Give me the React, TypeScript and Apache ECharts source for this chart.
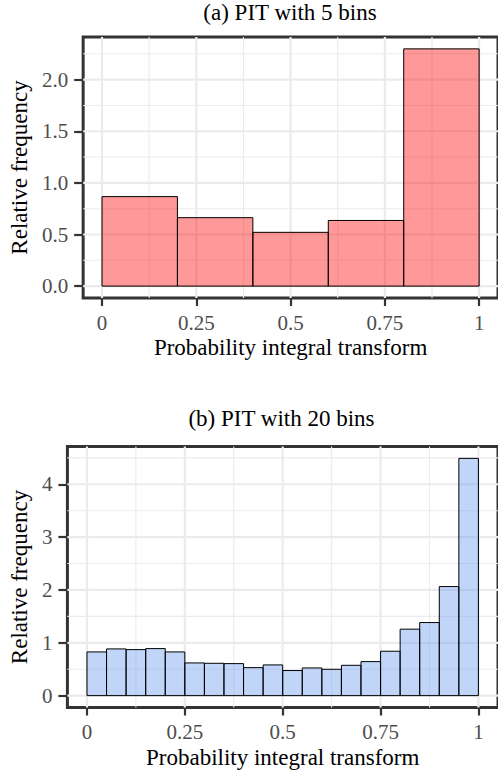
import React, { useEffect, useRef } from "react";
import * as echarts from "echarts";

// ---- data ----
const edgesA = [0, 0.2, 0.4, 0.6, 0.8, 1];
const freqA = [0.867, 0.663, 0.521, 0.636, 2.298];

const edgesB = [
  0, 0.05, 0.1, 0.15, 0.2, 0.25, 0.3, 0.35, 0.4, 0.45, 0.5, 0.55, 0.6, 0.65,
  0.7, 0.75, 0.8, 0.85, 0.9, 0.95, 1,
];
const freqB = [
  0.827, 0.884, 0.871, 0.89, 0.827, 0.619, 0.612, 0.606, 0.53, 0.581, 0.475,
  0.524, 0.499, 0.574, 0.644, 0.84, 1.258, 1.383, 2.064, 4.49,
];

const xTicks = [0, 0.25, 0.5, 0.75, 1];
const xMinor = [0.125, 0.375, 0.625, 0.875];
const yTicksA = [0, 0.5, 1, 1.5, 2];
const yMinorA = [0.25, 0.75, 1.25, 1.75, 2.25];
const yTicksB = [0, 1, 2, 3, 4];
const yMinorB = [0.5, 1.5, 2.5, 3.5, 4.5];

const titleA = "(a) PIT with 5 bins";
const titleB = "(b) PIT with 20 bins";
const xTitle = "Probability integral transform";
const yTitle = "Relative frequency";

const FONT = "Liberation Serif, Times New Roman, serif";

export default function App() {
  const ref = useRef<HTMLDivElement>(null);

  useEffect(() => {
    if (!ref.current) return;
    const chart = echarts.init(ref.current, null, { renderer: "svg" });

    const maxA = Math.max(...freqA);
    const maxB = Math.max(...freqB);

    const grids = [
      { left: 80.5, top: 37, width: 419, height: 261 },
      { left: 63.5, top: 446.5, width: 437, height: 261 },
    ];

    const makeX = (gi: number) => ({
      type: "value",
      gridIndex: gi,
      min: -0.05,
      max: 1.05,
      name: xTitle,
      nameLocation: "middle",
      nameGap: 38,
      nameTextStyle: { fontFamily: FONT, fontSize: 23, color: "#000" },
      axisLine: { show: false, onZero: false },
      axisTick: {
        show: true,
        length: 8,
        customValues: xTicks,
        lineStyle: { color: "#333", width: 2.2 },
      },
      axisLabel: {
        customValues: xTicks,
        margin: 14,
        fontFamily: FONT,
        fontSize: 21,
        color: "#4D4D4D",
        formatter: (v: number) => String(v),
      },
      splitLine: { show: false },
    });

    const makeY = (gi: number, max: number, ticks: number[], dec: number, gap: number) => ({
      type: "value",
      gridIndex: gi,
      min: -0.05 * max,
      max: 1.05 * max,
      name: yTitle,
      nameLocation: "middle",
      nameGap: gap,
      nameTextStyle: { fontFamily: FONT, fontSize: 23, color: "#000" },
      axisLine: { show: false, onZero: false },
      axisTick: {
        show: true,
        length: 9,
        customValues: ticks,
        lineStyle: { color: "#333", width: 2.2 },
      },
      axisLabel: {
        customValues: ticks,
        margin: 15,
        fontFamily: FONT,
        fontSize: 21,
        color: "#4D4D4D",
        formatter: (v: number) => v.toFixed(dec),
      },
      splitLine: { show: false },
    });

    const gridSeries = (gi: number, xMaj: number[], xMin: number[], yMaj: number[], yMin: number[]) => {
      const data: any[] = [];
      xMaj.forEach((v) => data.push([v, 0, 1]));
      xMin.forEach((v) => data.push([v, 0, 0]));
      yMaj.forEach((v) => data.push([0, v, 3]));
      yMin.forEach((v) => data.push([0, v, 2]));
      return {
        type: "custom",
        xAxisIndex: gi,
        yAxisIndex: gi,
        z: 1,
        silent: true,
        data,
        encode: { x: 0, y: 1 },
        renderItem: (params: any, api: any) => {
          const cs = params.coordSys;
          const kind = api.value(2);
          const major = kind === 1 || kind === 3;
          const style = { stroke: "#EBEBEB", lineWidth: major ? 2.2 : 1.1 };
          if (kind <= 1) {
            const x = api.coord([api.value(0), 0])[0];
            return {
              type: "line",
              shape: { x1: x, y1: cs.y, x2: x, y2: cs.y + cs.height },
              style,
            };
          }
          const y = api.coord([0, api.value(1)])[1];
          return {
            type: "line",
            shape: { x1: cs.x, y1: y, x2: cs.x + cs.width, y2: y },
            style,
          };
        },
      };
    };

    const barSeries = (gi: number, edges: number[], freq: number[], fill: string) => ({
      type: "custom",
      xAxisIndex: gi,
      yAxisIndex: gi,
      z: 2,
      data: freq.map((f, i) => [edges[i], edges[i + 1], f]),
      encode: { x: [0, 1], y: 2 },
      renderItem: (_params: any, api: any) => {
        const p0 = api.coord([api.value(0), api.value(2)]);
        const p1 = api.coord([api.value(1), 0]);
        return {
          type: "rect",
          shape: { x: p0[0], y: p0[1], width: p1[0] - p0[0], height: p1[1] - p0[1] },
          style: { fill, stroke: "#000", lineWidth: 1 },
        };
      },
    });

    chart.setOption({
      animation: false,
      backgroundColor: "#fff",
      grid: grids.map((g) => ({
        ...g,
        show: true,
        borderColor: "#333",
        borderWidth: 3,
        backgroundColor: "transparent",
        containLabel: false,
      })),
      xAxis: [makeX(0), makeX(1)],
      yAxis: [makeY(0, maxA, yTicksA, 1, 52), makeY(1, maxB, yTicksB, 0, 35)],
      graphic: [
        {
          type: "text",
          x: 290,
          y: 12.9,
          style: {
            text: titleA,
            fontFamily: FONT,
            fontSize: 23,
            fill: "#000",
            textAlign: "center",
            textVerticalAlign: "middle",
          },
        },
        {
          type: "text",
          x: 281.5,
          y: 418.9,
          style: {
            text: titleB,
            fontFamily: FONT,
            fontSize: 23,
            fill: "#000",
            textAlign: "center",
            textVerticalAlign: "middle",
          },
        },
      ],
      series: [
        gridSeries(0, xTicks, xMinor, yTicksA, yMinorA),
        barSeries(0, edgesA, freqA, "rgba(255,0,0,0.4)"),
        gridSeries(1, xTicks, xMinor, yTicksB, yMinorB),
        barSeries(1, edgesB, freqB, "rgba(100,149,237,0.4)"),
      ],
    });

    return () => chart.dispose();
  }, []);

  return (
    <div
      ref={ref}
      style={{ position: "absolute", left: 0, top: 0, width: 498, height: 776 }}
    />
  );
}
